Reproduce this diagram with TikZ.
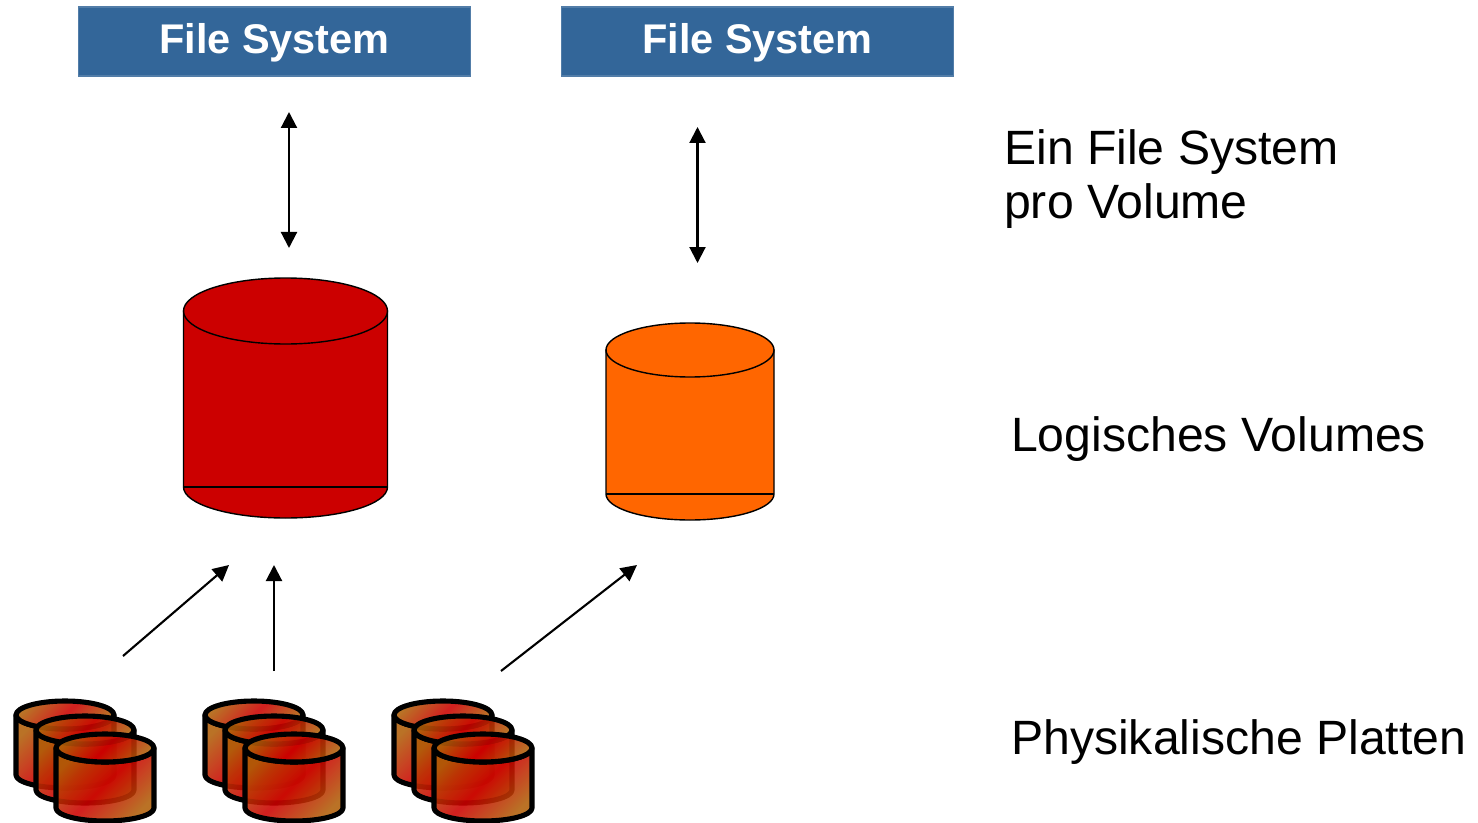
\documentclass[tikz,border=0pt]{standalone}
\usepackage{fontspec}
\setmainfont{Liberation Sans}
\usetikzlibrary{arrows.meta}
\definecolor{fsblue}{HTML}{336699}
\definecolor{volred}{HTML}{CC0000}
\definecolor{volorange}{HTML}{FF6600}
\definecolor{diskedge}{HTML}{B05E08}
\tikzset{
  fsbox/.style={draw=fsblue!85!white,line width=.3pt,fill=fsblue,text=white,minimum width=3.92cm,minimum height=.69cm,
    inner sep=0pt,text height=9pt,font=\fontsize{11.8}{14}\selectfont\bfseries},
  caption/.style={anchor=base west,inner sep=0pt,align=left,font=\fontsize{13.7}{15.4}\selectfont},
  link/.style={semithick,-{Triangle[length=.16cm,width=.16cm]}},
  both/.style={semithick,{Triangle[length=.16cm,width=.16cm]}-{Triangle[length=.16cm,width=.16cm]}},
  diskshade/.style={draw=black,line width=1.45pt,line join=round,left color=diskedge,right color=diskedge,middle color=volred,
    shading angle=45,fill opacity=.88},
  % one small platter, origin at the centre of its lid
  disk/.pic={
    \path[diskshade] (-.49,0) -- (-.49,-.6) arc[start angle=180,end angle=360,x radius=.49,y radius=.13]
      -- (.49,0) arc[start angle=0,end angle=-180,x radius=.49,y radius=.14] -- cycle;
    \path[diskshade] (0,0) ellipse[x radius=.49,y radius=.14];
  }
}
% #1 centre x, #2 lid y, #3 floor y, #4 rx, #5 lid ry, #6 floor ry, #7 colour
\newcommand{\volume}[7]{
  \draw[fill=#7,line width=.4pt] (#1-#4,#3) arc[start angle=180,end angle=360,x radius=#4,y radius=#6]
    -- (#1+#4,#2) -- (#1-#4,#2) -- cycle;
  \draw (#1-#4,#3) -- (#1+#4,#3);
  \draw[fill=#7,line width=.4pt] (#1,#2) ellipse[x radius=#4,y radius=#5];
}
\begin{document}
\begin{tikzpicture}
  \useasboundingbox (0,0) rectangle (14.78,8.22);
  \node[fsbox] (fsa) at (2.745,7.805) {File System};
  \node[fsbox] (fsb) at (7.575,7.805) {File System};

  \volume{2.855}{5.11}{3.35}{1.02}{.33}{.31}{volred}
  \volume{6.90}{4.72}{3.28}{.84}{.27}{.26}{volorange}

  \coordinate (fsaout) at (2.89,7.10);
  \coordinate (volain) at (2.89,5.74);
  \coordinate (fsbout) at (6.975,6.95);
  \coordinate (volbin) at (6.975,5.59);
  \draw[both] (fsaout) -- (volain);
  \draw[both] (fsbout) -- (volbin);

  \coordinate (grpa) at (1.23,1.66);
  \coordinate (grpb) at (2.74,1.51);
  \coordinate (grpc) at (5.01,1.51);
  \coordinate (suma) at (2.29,2.57);
  \coordinate (sumb) at (2.74,2.57);
  \coordinate (sumc) at (6.37,2.57);
  \draw[link] (grpa) -- (suma);
  \draw[link] (grpb) -- (sumb);
  \draw[link] (grpc) -- (sumc);

  \foreach \x in {0,1.89,3.78}{
    \foreach \dx/\y in {.65/1.07,.85/.92,1.05/.74}
      \pic at (\x+\dx,\y) {disk};
  }

  \node[caption] (one) at (10.035,6.035) {Ein File System\\pro Volume};
  \node[caption] (log) at (10.105,3.71) {Logisches Volumes};
  \node[caption] (phy) at (10.105,.68) {Physikalische Platten};
\end{tikzpicture}
\end{document}
